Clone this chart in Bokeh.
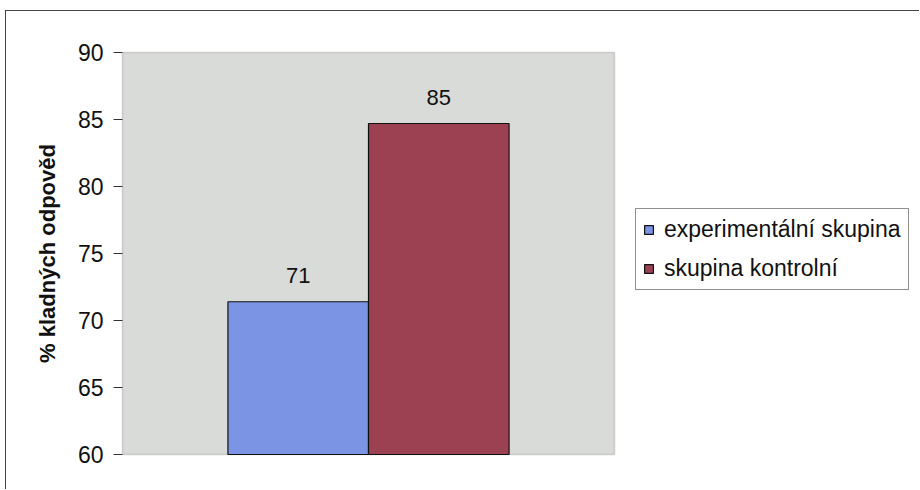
from bokeh.plotting import figure
from bokeh.models import Range1d, ColumnDataSource, Legend, LegendItem, FixedTicker, LabelSet, BoxAnnotation
from bokeh.core.properties import value
from bokeh.embed import file_html
from bokeh.resources import INLINE

# ---- data ----
series = ["experimentální skupina", "skupina kontrolní"]
values = [71.4, 84.7]
labels = ["71", "85"]
colors = ["#7B95E4", "#9B4151"]
y_ticks = [60, 65, 70, 75, 80, 85, 90]
y_title = "% kladných odpověd"

FONT = "Liberation Sans"

positions = [i + 1 for i in range(len(series))]
src = ColumnDataSource(dict(x=positions, top=values, label=labels, color=colors, name=series))

# plot-area extent (layout): categories span 0.5..2.5, with side padding
area_left, area_right = -0.25, 3.25
px_x = 492 / (area_right - area_left)
px_y = 402 / (y_ticks[-1] - y_ticks[0])
x0 = area_left - 2 / px_x
x1 = x0 + 800 / px_x
y0 = y_ticks[0] - 2 / px_y
y1 = y_ticks[-1] + 2 / px_y

p = figure(width=914, height=479, output_backend="svg", toolbar_location=None,
           x_range=Range1d(x0, x1), y_range=Range1d(y0, y1),
           min_border_left=114, min_border_right=0, min_border_top=39, min_border_bottom=34)
p.margin = (10, 0, 0, 5)
p.styles = {"border-left": "1px solid #444444", "border-top": "1px solid #444444"}
p.background_fill_color = "white"
p.border_fill_color = "white"
p.outline_line_color = None
p.grid.visible = False
p.xaxis.visible = False

area = BoxAnnotation(left=area_left, right=area_right, bottom=y_ticks[0], top=y_ticks[-1],
                     fill_color="#D9DBD8", fill_alpha=1.0, line_color="#7a7a7a", line_width=1.5,
                     level="underlay")
p.add_layout(area)

ya = p.yaxis[0]
ya.ticker = FixedTicker(ticks=y_ticks)
ya.minor_tick_line_color = None
ya.major_tick_in = 2
ya.major_tick_out = 7
ya.major_label_standoff = 10
ya.axis_line_color = None
ya.major_tick_line_color = "#333333"
ya.major_label_text_font = FONT
ya.major_label_text_font_size = "23px"
ya.major_label_text_color = "#111111"
ya.axis_label = y_title
ya.axis_label_text_font = FONT
ya.axis_label_text_font_style = "bold"
ya.axis_label_text_font_size = "22px"
ya.axis_label_text_color = "#111111"
ya.axis_label_standoff = 15

r = p.vbar(x="x", top="top", bottom=y_ticks[0], width=1.0, source=src,
           fill_color="color", line_color="#111111", line_width=1.2)

lbl = LabelSet(x="x", y="top", text="label", source=src, text_align="center",
               text_baseline="middle", y_offset=26, text_font=value(FONT),
               text_font_size=value("22px"), text_color=value("#111111"))
p.add_layout(lbl)

items = [LegendItem(label=series[i], renderers=[r], index=i) for i in range(len(series))]
leg = Legend(items=items, location=(515, 166), orientation="vertical",
             label_text_font=FONT, label_text_font_size="23px", label_text_color="#111111",
             glyph_width=11, glyph_height=11, label_standoff=10, padding=7, spacing=12,
             label_height=26, border_line_color="#222222", border_line_width=1,
             background_fill_color="white", background_fill_alpha=1.0, margin=0)
p.add_layout(leg, "center")

open("out.html", "w").write(file_html(p, INLINE))
